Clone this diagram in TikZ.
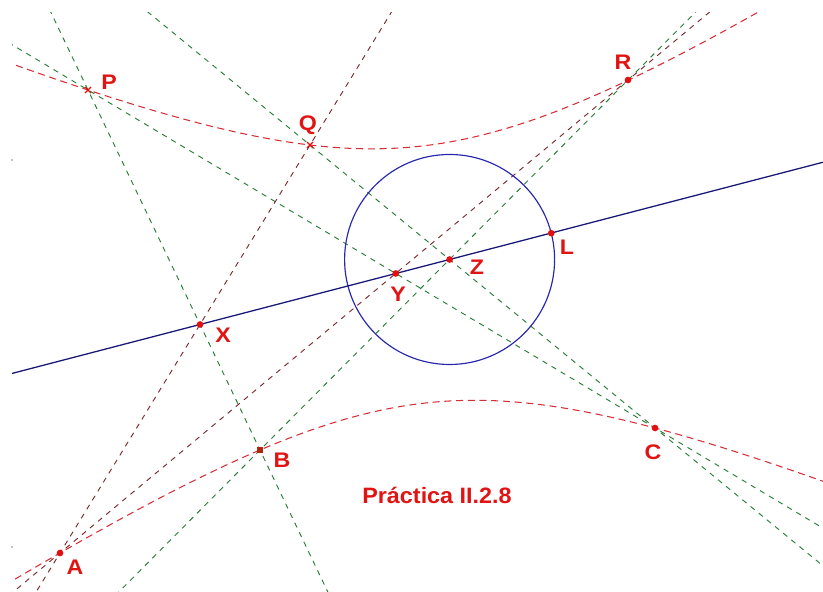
\documentclass[tikz,border=0pt]{standalone}
\usepackage{fontspec}
\setmainfont{Liberation Sans}
\newfontfamily\lblfont[FakeStretch=1.1]{Liberation Sans}
\newfontfamily\ttlfont[FakeStretch=1.05]{Liberation Sans}
\usetikzlibrary{calc}
\definecolor{gline}{RGB}{40,125,55}
\definecolor{bline}{RGB}{125,40,45}
\definecolor{conic}{RGB}{215,45,55}
\definecolor{navy}{RGB}{25,25,120}
\definecolor{circ}{RGB}{40,40,175}
\definecolor{lbl}{RGB}{225,20,20}
\definecolor{ptred}{RGB}{225,15,15}
\definecolor{ptbrown}{RGB}{175,40,10}
\begin{document}
\begin{tikzpicture}[x=0.03cm,y=-0.03cm,
  gdash/.style={draw=gline, line width=0.8pt, dash pattern=on 4.5pt off 4.5pt},
  bdash/.style={draw=bline, line width=0.8pt, dash pattern=on 4.5pt off 4.5pt},
  cdash/.style={draw=conic, line width=0.9pt, dash pattern=on 6pt off 4pt},
  pascal/.style={draw=navy, line width=1.1pt},
  circline/.style={draw=circ, line width=1pt},
  lab/.style={text=lbl, font=\lblfont\bfseries\fontsize{18}{18}\selectfont, inner sep=0pt},
  ttl/.style={text=lbl, font=\ttlfont\bfseries\fontsize{19}{19}\selectfont, inner sep=0pt},
  dot/.style={circle, fill=ptred, inner sep=0pt, minimum size=0.2cm},
  sqdot/.style={rectangle, fill=ptbrown, inner sep=0pt, minimum size=0.18cm},
  xmark/.style={draw=ptred, line width=1pt},
]
\useasboundingbox (0,0) rectangle (823,591);
% points of the conic
\coordinate (P) at (88,90);
\coordinate (Q) at (310,145);
\coordinate (R) at (628,80);
\coordinate (A) at (60,553);
\coordinate (B) at (260,450);
\coordinate (C) at (655,428);
% Pascal points
\coordinate (X) at (intersection of A--Q and B--P);
\coordinate (Y) at (intersection of A--R and P--C);
\coordinate (Z) at (intersection of Q--C and B--R);
\coordinate (L) at ($(Z)!-3.15cm!(Y)$);
\coordinate (k1) at (12,160);
\coordinate (k2) at (12,547);

\begin{scope}
\clip (12,13) rectangle (823,591);
% green dashed lines
\draw[gdash] ($(P)!-3!(B)$) -- ($(P)!4!(B)$);
\draw[gdash] ($(P)!-3!(C)$) -- ($(P)!4!(C)$);
\draw[gdash] ($(Q)!-3!(C)$) -- ($(Q)!4!(C)$);
\draw[gdash] ($(B)!-3!(R)$) -- ($(B)!4!(R)$);
% brown dashed lines
\draw[bdash] ($(A)!-3!(Q)$) -- ($(A)!4!(Q)$);
\draw[bdash] ($(A)!-3!(R)$) -- ($(A)!4!(R)$);
% hyperbola through A,B,C,P,Q,R
\draw[cdash, domain=-3.95:4.3, samples=140, variable=\t]
  plot ({400+100*\t},{300+100*(-(1.0313*\t+2.01657)-sqrt(23.3807*\t*\t-10.8342*\t+131.443))/8.86628});
\draw[cdash, domain=-3.95:4.3, samples=140, variable=\t]
  plot ({400+100*\t},{300+100*(-(1.0313*\t+2.01657)+sqrt(23.3807*\t*\t-10.8342*\t+131.443))/8.86628});
% circle and Pascal line
\draw[circline] (Z) circle[radius=3.15cm];
\draw[pascal] ($(X)!-3!(Z)$) -- ($(X)!4!(Z)$);
\end{scope}

% small marks
\fill[black] (k1) circle[radius=0.7];
\fill[black] (k2) circle[radius=0.7];

% point marks
\draw[xmark] ($(P)+(-3,-3)$) -- ($(P)+(3,3)$) ($(P)+(-3,3)$) -- ($(P)+(3,-3)$);
\draw[xmark] ($(Q)+(-3,-3)$) -- ($(Q)+(3,3)$) ($(Q)+(-3,3)$) -- ($(Q)+(3,-3)$);
\node[dot] (dR) at (R) {};
\node[dot] (dA) at (A) {};
\node[sqdot] (dB) at (B) {};
\node[dot] (dC) at (C) {};
\node[dot] (dX) at (X) {};
\node[dot] (dY) at (Y) {};
\node[dot] (dZ) at (Z) {};
\node[dot] (dL) at (L) {};

% labels
\node[lab] (lP) at (109,82) {P};
\node[lab] (lQ) at (308,125) {Q};
\node[lab] (lR) at (623,62) {R};
\node[lab] (lL) at (567,247) {L};
\node[lab] (lZ) at (477,267) {Z};
\node[lab] (lY) at (398,294) {Y};
\node[lab] (lX) at (223,335) {X};
\node[lab] (lB) at (282,460) {B};
\node[lab] (lA) at (75,567) {A};
\node[lab] (lC) at (653,452) {C};
\node[ttl, anchor=base] (title) at (437,503) {Práctica II.2.8};
\end{tikzpicture}
\end{document}
